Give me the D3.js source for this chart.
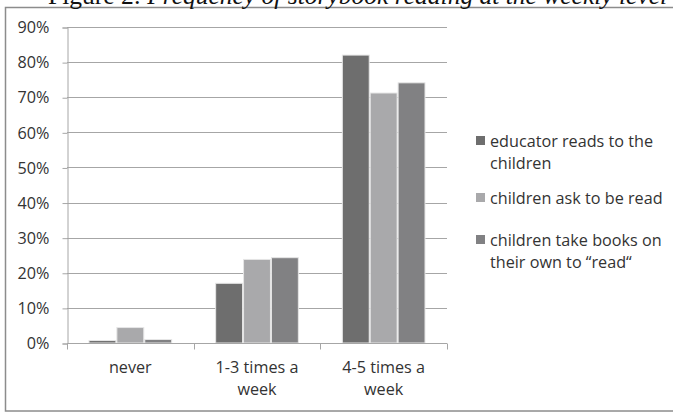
<!DOCTYPE html>
<html><head><meta charset="utf-8">
<script src="https://cdn.jsdelivr.net/npm/d3@7"></script>
<style>
body{margin:0;background:#fff;}
svg{display:block;}
</style>
</head><body>
<svg id="c" width="673" height="413"></svg>
<script>
const categories = [["never"], ["1-3 times a", "week"], ["4-5 times a", "week"]];
const categoryKeys = ["never", "1-3 times a week", "4-5 times a week"];
const seriesNames = [["educator reads to the", "children"], ["children ask to be read"], ["children take books on", "their own to “read“"]];
const educatorReads = [0.7, 17, 82];
const childrenAsk = [4.4, 23.8, 71.2];
const childrenTake = [1.0, 24.3, 74.1];
const yTicks = [0, 10, 20, 30, 40, 50, 60, 70, 80, 90];
const colors = ["#6e6e6e", "#a9a9ab", "#818183"];

(function () {
const series = [educatorReads, childrenAsk, childrenTake];
const svg = d3.select("#c");
const font = "'Open Sans', Lato, sans-serif";
const fs = 16.2;

svg.append("rect").attr("x", 5.5).attr("y", 7.5).attr("width", 700).attr("height", 403.5)
  .attr("fill", "none").attr("stroke", "#8c8c8c").attr("stroke-width", 1.5);

const title = svg.append("text").attr("x", 48).attr("y", 4)
  .attr("font-family", "'Liberation Serif', 'DejaVu Serif', serif").attr("font-size", 25.5).attr("fill", "#111");
title.append("tspan").text("Figure 2: ");
title.append("tspan").attr("font-style", "italic").text("Frequency of storybook reading at the weekly level");

const pL = 67, pR = 447, pT = 27, pB = 343;
const y = d3.scaleLinear().domain([0, 90]).range([pB, pT]);
const x0 = d3.scaleBand().domain(categoryKeys).range([pL, pR]).padding(0);
const x1 = d3.scaleBand().domain(d3.range(series.length)).range([21.5, x0.bandwidth() - 21.5]).padding(0);

svg.append("g").selectAll("line").data(yTicks.filter(d => d > 0)).join("line")
  .attr("x1", pL).attr("x2", pR)
  .attr("y1", d => Math.round(y(d)) + 0.5).attr("y2", d => Math.round(y(d)) + 0.5)
  .attr("stroke", "#a6a6a6").attr("stroke-width", 1);

const yAxis = svg.append("g").attr("transform", `translate(${pL + 0.5},0.5)`)
  .call(d3.axisLeft(y).tickValues(yTicks).tickFormat(d => d + "%").tickSize(5).tickPadding(13));
yAxis.select(".domain").attr("stroke", "#a6a6a6");
yAxis.selectAll(".tick line").attr("stroke", "#a6a6a6");
yAxis.selectAll("text").attr("font-family", font).attr("font-size", fs).attr("fill", "#333");

const groups = svg.append("g").selectAll("g").data(categoryKeys).join("g")
  .attr("transform", d => `translate(${x0(d)},0)`);
groups.selectAll("rect").data((d, i) => series.map((s, j) => ({ j, v: s[i] }))).join("rect")
  .attr("x", d => x1(d.j) + 0.5)
  .attr("width", x1.bandwidth() - 1)
  .attr("y", d => y(d.v))
  .attr("height", d => pB - y(d.v))
  .attr("fill", d => colors[d.j])
  .attr("stroke", "#e6e6e6").attr("stroke-width", 1);

const xAxis = svg.append("g").attr("transform", `translate(0,${pB + 0.5})`);
xAxis.append("line").attr("x1", pL).attr("x2", pR).attr("stroke", "#a6a6a6");
const bounds = [pL, ...categoryKeys.map(k => x0(k) + x0.bandwidth())];
xAxis.selectAll("line.t").data(bounds).join("line").attr("class", "t")
  .attr("x1", d => Math.round(d) + 0.5).attr("x2", d => Math.round(d) + 0.5)
  .attr("y1", 0).attr("y2", 6).attr("stroke", "#a6a6a6");
categoryKeys.forEach((k, i) => {
  const t = svg.append("text").attr("font-family", font).attr("font-size", fs).attr("fill", "#333")
    .attr("text-anchor", "middle");
  categories[i].forEach((line, li) => {
    t.append("tspan").attr("x", x0(k) + x0.bandwidth() / 2).attr("y", 373 + li * 22).text(line);
  });
});

const legendTop = [136, 193, 235];
seriesNames.forEach((lines, i) => {
  svg.append("rect").attr("x", 476).attr("y", legendTop[i]).attr("width", 9).attr("height", 9)
    .attr("fill", colors[i]);
  const t = svg.append("text").attr("font-family", font).attr("font-size", fs).attr("fill", "#333");
  lines.forEach((line, li) => {
    t.append("tspan").attr("x", 490).attr("y", legendTop[i] + 10.5 + li * 22).text(line);
  });
});
})();
</script>
</body></html>
